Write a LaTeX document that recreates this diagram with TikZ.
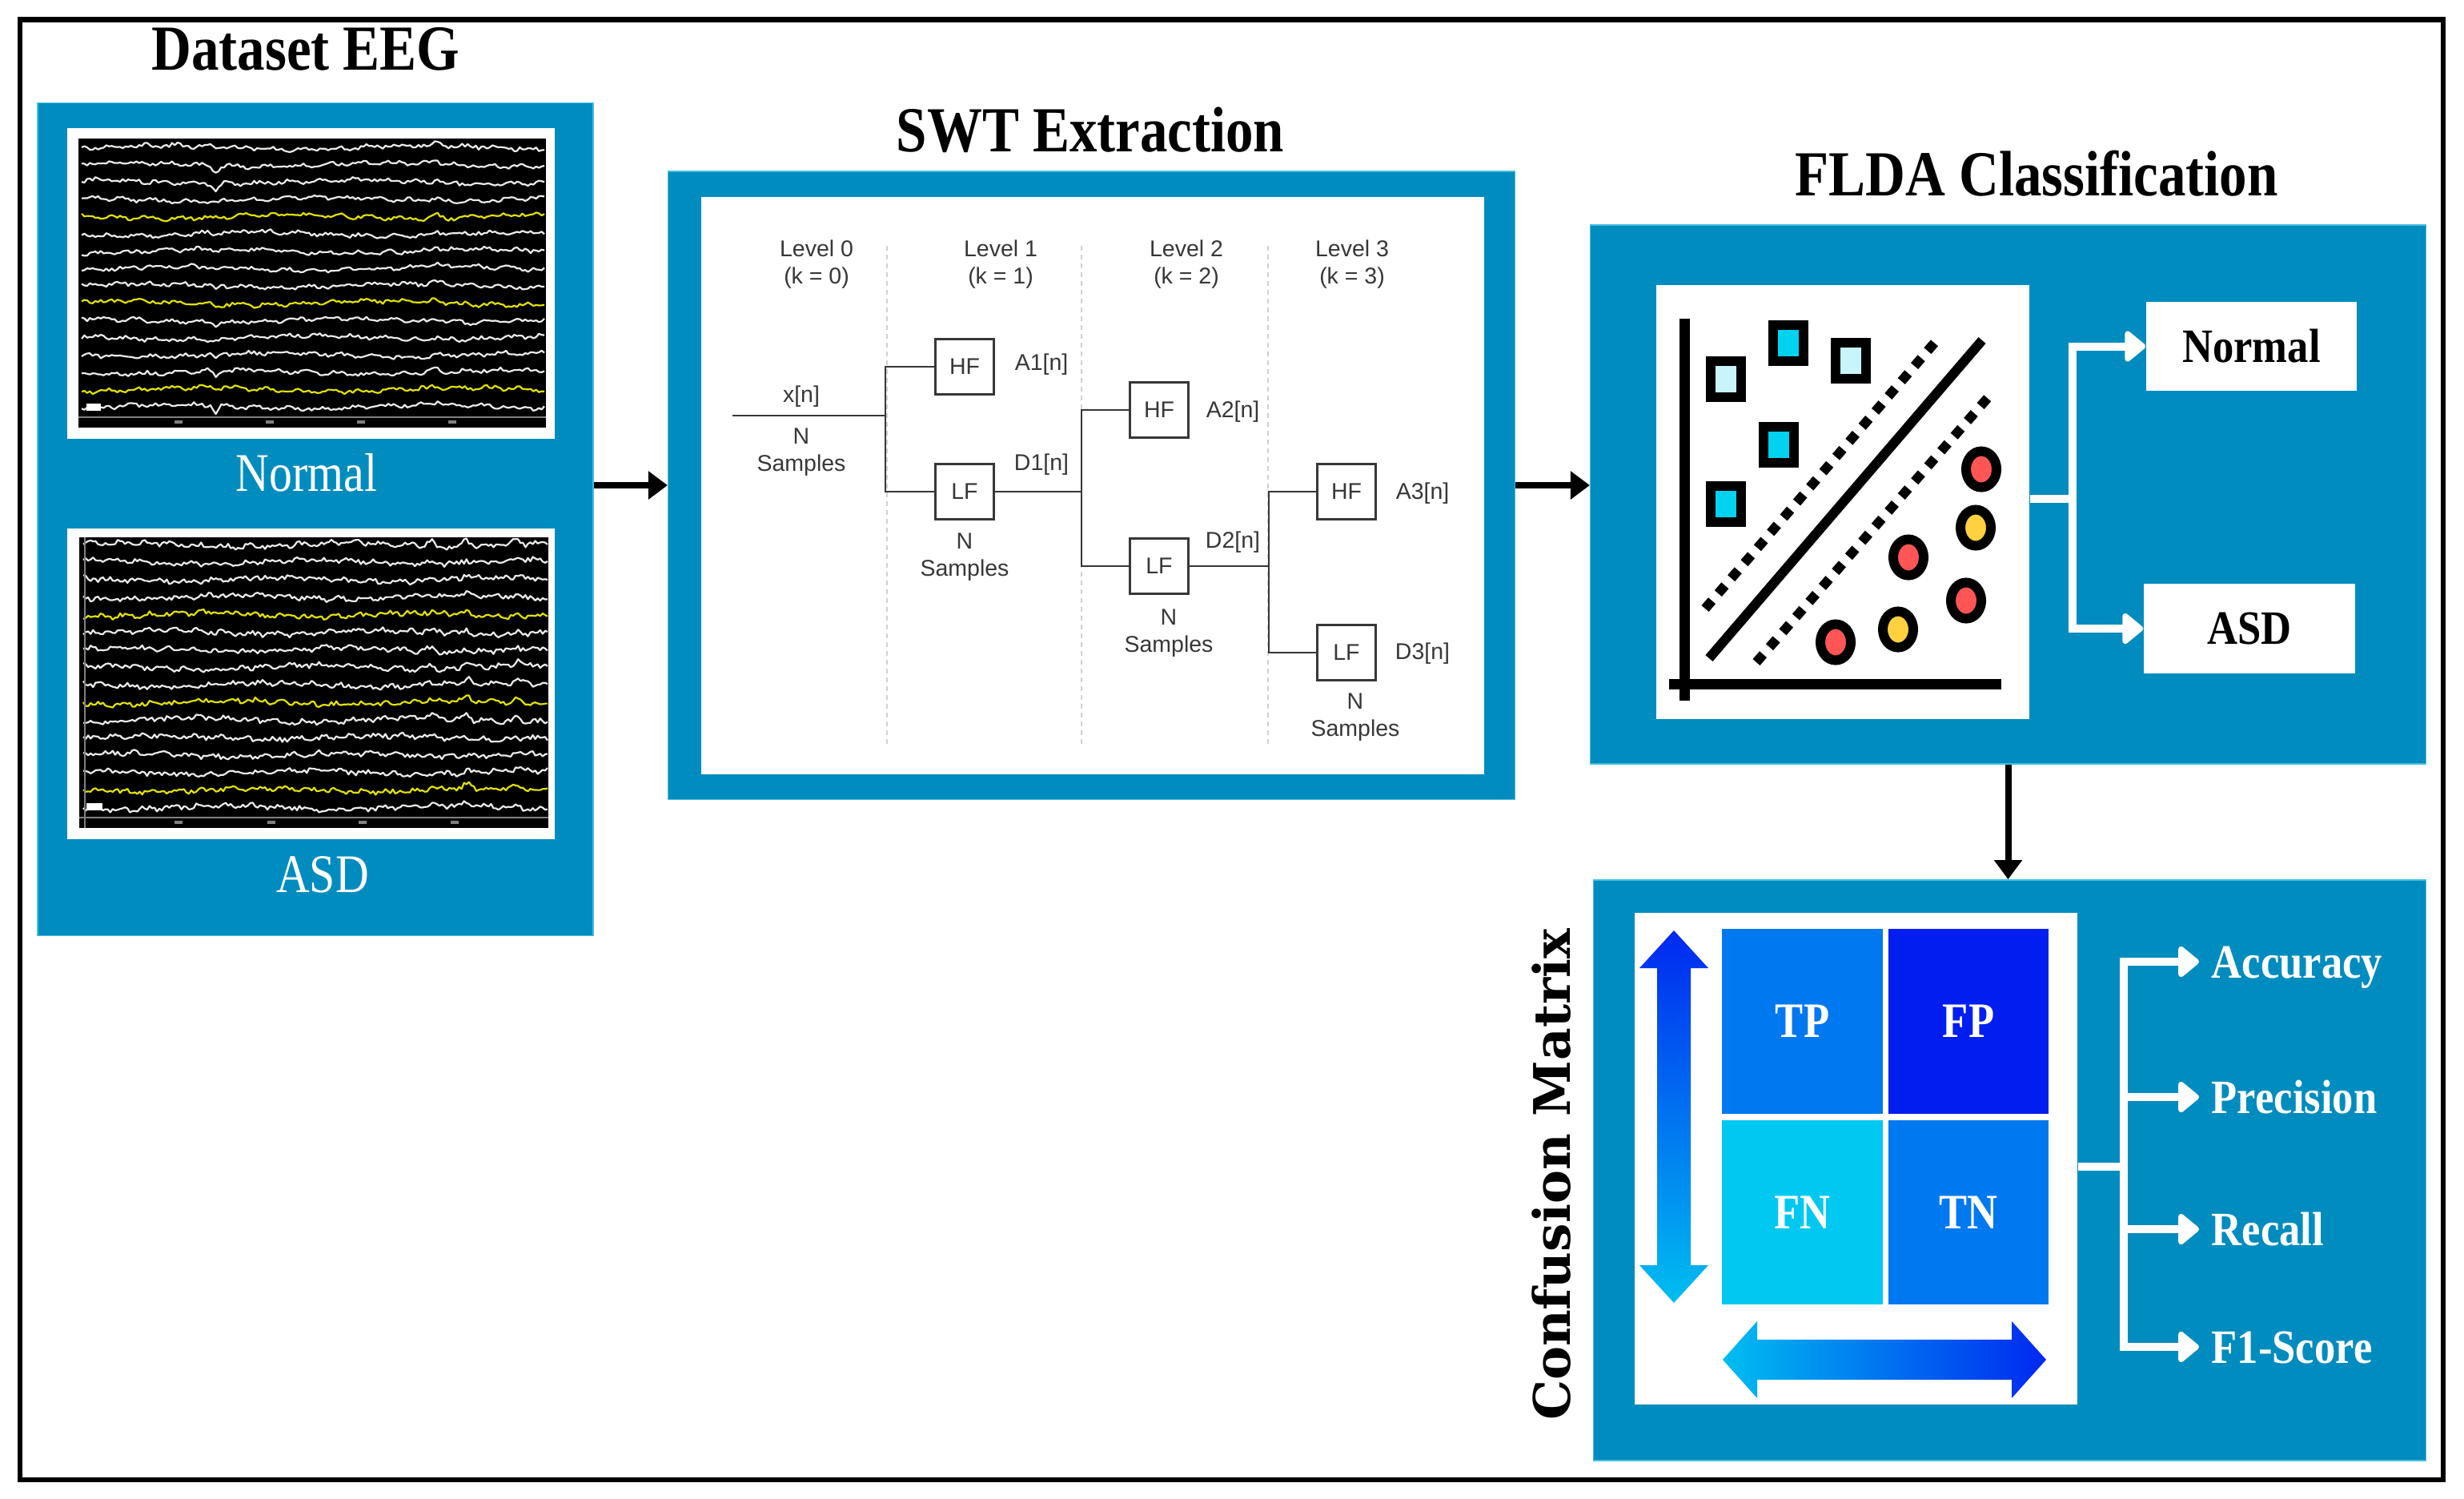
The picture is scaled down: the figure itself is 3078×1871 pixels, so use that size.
\documentclass[tikz,border=0pt]{standalone}
\usepackage{fontspec}
\setmainfont{Liberation Serif}
\newfontfamily\swtfont{Liberation Sans}
\newfontfamily\cmfont{DejaVu Serif}
\usepackage{tikz}
\usetikzlibrary{arrows.meta,positioning}

\definecolor{panelblue}{RGB}{0,140,190}
\definecolor{panelrim}{RGB}{70,190,225}
\definecolor{tpblue}{RGB}{0,120,240}
\definecolor{fpblue}{RGB}{0,30,240}
\definecolor{fncyan}{RGB}{0,200,240}
\definecolor{arrowdark}{RGB}{0,40,240}
\definecolor{arrowlight}{RGB}{0,190,240}
\definecolor{sqlight}{RGB}{200,244,252}
\definecolor{sqcyan}{RGB}{0,210,240}
\definecolor{dotred}{RGB}{255,85,85}
\definecolor{dotyellow}{RGB}{255,208,64}
\definecolor{eegwhite}{RGB}{235,235,235}
\definecolor{eegyellow}{RGB}{225,225,0}
\definecolor{swtgray}{RGB}{55,55,55}

\newcommand{\cond}[2]{\scalebox{#1}[1]{#2}}

\begin{document}
\begin{tikzpicture}[x=0.01cm,y=-0.01cm,
    panel/.style={fill=panelblue,draw=panelrim,line width=0.015cm,inner sep=0pt},
    card/.style={fill=white,inner sep=0pt},
    paneltitle/.style={font=\fontsize{22.8}{26}\selectfont\bfseries},
    eeglabel/.style={text=white,font=\fontsize{19.3}{22}\selectfont},
    classlabel/.style={font=\fontsize{17}{20}\selectfont\bfseries},
    metric/.style={text=white,font=\fontsize{17}{20}\selectfont\bfseries,anchor=west,inner xsep=0.15cm,inner ysep=0pt,text height=0.4cm,text depth=0pt},
    cell/.style={text=white,font=\fontsize{17.6}{20}\selectfont\bfseries,minimum width=2cm,minimum height=2.3cm,inner sep=0pt},
    filt/.style={draw=swtgray,line width=0.028cm,minimum width=0.73cm,minimum height=0.69cm,inner sep=0pt,text=swtgray,font=\swtfont\fontsize{8.1}{9.7}\selectfont},
    swtlabel/.style={text=swtgray,align=center,inner sep=0pt,font=\swtfont\fontsize{8.1}{9.7}\selectfont},
    wire/.style={draw=swtgray,line width=0.028cm},
    levelsep/.style={draw=black!18,line width=0.02cm,dash pattern=on 0.06cm off 0.05cm},
    flowarrow/.style={line width=0.08cm,-{Triangle[length=0.24cm,width=0.34cm]}},
    whiteline/.style={draw=white,line width=0.1cm},
    whiteflow/.style={whiteline,-{Triangle[length=0.28cm,width=0.44cm,round]}},
    eegtrace/.style={line width=0.022cm,line join=round},
    iconline/.style={line width=0.12cm}]

  \useasboundingbox (0,0) rectangle (3078,1871);
  \draw[line width=0.065cm] (25,24.5) rectangle (3052,1848);

  \node[panel,minimum width=6.94cm,minimum height=10.39cm] (eeg) at (394,648.5) {};
  \node[panel,minimum width=10.57cm,minimum height=7.84cm] (swt) at (1363.5,606) {};
  \node[panel,minimum width=10.43cm,minimum height=6.73cm] (flda) at (2508.5,617.5) {};
  \node[panel,minimum width=10.39cm,minimum height=7.25cm] (cm) at (2510.5,1461.5) {};

  \draw (382,61.5) node[paneltitle] (eegtitle) {\cond{0.86}{Dataset EEG}};
  \draw (1362,162) node[paneltitle] (swttitle) {\cond{0.86}{SWT Extraction}};
  \draw (2544,217) node[paneltitle] (fldatitle) {\cond{0.86}{FLDA Classification}};
  \draw (1938,1467) node[rotate=90,font=\cmfont\fontsize{17.9}{20}\selectfont\bfseries] (cmtitle) {Confusion Matrix};

  % EEG recordings
  \node[card,minimum width=6.09cm,minimum height=3.88cm] (normframe) at (388.5,354) {};
  \node[fill=black,inner sep=0pt,minimum width=5.84cm,minimum height=3.61cm] (normimg) at (390,353.5) {};
  \node[card,minimum width=6.09cm,minimum height=3.88cm] (asdframe) at (388.5,854) {};
  \node[fill=black,inner sep=0pt,minimum width=5.86cm,minimum height=3.63cm] (asdimg) at (392,852.5) {};
  \draw (383,590) node[eeglabel] (normlabel) {\cond{0.85}{Normal}};
  \draw (403,1092) node[eeglabel] (asdlabel) {\cond{0.85}{ASD}};

  \pgfmathsetseed{7}
  \foreach \c/\d [count=\i] in {eegwhite/2,eegwhite/9,eegwhite/8,eegwhite/3,eegyellow/2,eegwhite/3,eegwhite/2,eegwhite/4,eegwhite/8,eegyellow/5,eegwhite/6,eegwhite/2,eegwhite/7,eegwhite/9,eegyellow/2,eegwhite/10}{
    \pgfmathsetmacro\yy{184+(\i-1)*21.6}
    \draw[\c,eegtrace] plot[domain=102:680,samples=170] (\x,{\yy+2.2*rand+2.5*sin(1.1*\x+47*\i)+1.5*sin(9*\x+83*\i)+\d*max(0,1-abs(\x-270)/7)-4*max(0,1-abs(\x-545)/10)});
  }
  \foreach \c/\p [count=\i] in {eegwhite/9,eegwhite/4,eegwhite/5,eegwhite/2,eegyellow/2,eegwhite/4,eegwhite/5,eegwhite/9,eegwhite/7,eegyellow/5,eegwhite/6,eegwhite/3,eegwhite/3,eegwhite/3,eegyellow/6,eegwhite/4}{
    \pgfmathsetmacro\yy{680+(\i-1)*21.9}
    \draw[\c,eegtrace] plot[domain=104:684,samples=190] (\x,{\yy+2.8*rand+2.5*sin(1.3*\x+61*\i)+1.5*sin(11*\x+71*\i)-\p*(max(0,1-abs(\x-583)/9)+0.8*max(0,1-abs(\x-646)/9)+0.7*max(0,1-abs(\x-537)/9))});
  }
  \draw[gray,line width=0.02cm] (98,521) -- (682,521);
  \draw[gray,line width=0.02cm] (99,1021) -- (685,1021);
  \draw[gray,line width=0.015cm] (106,671) -- (106,1034);
  \fill[white] (108,504) rectangle (126,513);
  \fill[white] (108,1003) rectangle (128,1012);
  \foreach \t in {223,337,451,565} \fill[gray] (\t-5,525) rectangle (\t+5,529);
  \foreach \t in {223,339,453,568} \fill[gray] (\t-5,1025) rectangle (\t+5,1029);

  \draw[flowarrow] (swt.west -| eeg.east) -- (swt.west);
  \draw[flowarrow] (swt.east) -- (swt.east -| flda.west);
  \draw[flowarrow] (flda.south) -- (flda.south |- cm.north);

  % SWT tree
  \node[card,minimum width=9.78cm,minimum height=7.21cm] (swtcard) at (1365,606.5) {};
  \foreach \x in {1108,1351,1584} \draw[levelsep] (\x,307) -- (\x,930);
  \foreach \k/\x in {0/1020,1/1250,2/1482,3/1689} \draw (\x,330) node[swtlabel] (level\k) {Level \k\\(k = \k)};

  \draw (1205,458) node[filt] (hf1) {HF};
  \draw (1205,614) node[filt] (lf1) {LF};
  \draw (1448,512) node[filt] (hf2) {HF};
  \draw (1448,707) node[filt] (lf2) {LF};
  \draw (1682,614) node[filt] (hf3) {HF};
  \draw (1682,815) node[filt] (lf3) {LF};

  \coordinate (xin) at (915,519);
  \coordinate (split0) at (1106,519);
  \coordinate (split1) at (1351,614);
  \coordinate (split2) at (1585,707);
  \draw[wire] (xin) -- (split0);
  \draw[wire] (hf1.west) -| (split0) |- (lf1.west);
  \draw[wire] (lf1.east) -- (split1);
  \draw[wire] (hf2.west) -| (split1) |- (lf2.west);
  \draw[wire] (lf2.east) -- (split2);
  \draw[wire] (hf3.west) -| (split2) |- (lf3.west);

  \draw (1001,495) node[swtlabel] (xlab) {x[n]};
  \draw (1001,565) node[swtlabel] (nsamp0) {N\\Samples};
  \draw (1301,455) node[swtlabel] (a1) {A1[n]};
  \draw (1301,580) node[swtlabel] (d1) {D1[n]};
  \draw (1205,696) node[swtlabel] (nsamp1) {N\\Samples};
  \draw (1540,514) node[swtlabel] (a2) {A2[n]};
  \draw (1540,677) node[swtlabel] (d2) {D2[n]};
  \draw (1460,791) node[swtlabel] (nsamp2) {N\\Samples};
  \draw (1777,616) node[swtlabel] (a3) {A3[n]};
  \draw (1777,816) node[swtlabel] (d3) {D3[n]};
  \draw (1693,896) node[swtlabel] (nsamp3) {N\\Samples};

  % FLDA
  \node[card,minimum width=4.66cm,minimum height=5.42cm] (plot) at (2302,627) {};
  \draw[line width=0.13cm] (2104,398) -- (2104,875);
  \draw[line width=0.13cm] (2085,854) -- (2500,854);
  \draw[iconline] (2135,822) -- (2476,425);
  \draw[iconline,dash pattern=on 0.13cm off 0.12cm] (2130,760) -- (2421,423);
  \draw[iconline,dash pattern=on 0.13cm off 0.12cm] (2194,827) -- (2489,490);
  \foreach \px/\py/\f in {2156/473/sqlight,2234/428/sqcyan,2312/450/sqlight,2222/555/sqcyan,2156/629/sqcyan}
    \draw[iconline,fill=\f] (\px-19,\py-22.5) rectangle (\px+19,\py+22.5);
  \foreach \px/\py/\f in {2475/586/dotred,2468/659/dotyellow,2384/696/dotred,2456/750/dotred,2371/786/dotyellow,2293/802/dotred}
    \draw[iconline,fill=\f] (\px,\py) ellipse [x radius=0.19cm,y radius=0.225cm];

  \node[card,classlabel,minimum width=2.63cm,minimum height=1.11cm] (normalbox) at (2812.5,432.5) {\cond{0.88}{Normal}};
  \node[card,classlabel,minimum width=2.64cm,minimum height=1.12cm] (asdbox) at (2810,785) {\cond{0.88}{ASD}};
  \coordinate (fldajoin) at (2589,623);
  \draw[whiteline] (plot.east |- fldajoin) -- (fldajoin);
  \draw[whiteflow] (fldajoin) |- (normalbox.west);
  \draw[whiteflow] (fldajoin) |- (asdbox.west);

  % confusion matrix
  \node[card,minimum width=5.53cm,minimum height=6.14cm] (cmcard) at (2318.5,1447) {};
  \node[cell,fill=tpblue] (tp) at (2251.5,1275.5) {\cond{0.85}{TP}};
  \node[cell,fill=fpblue,right=0.06cm of tp] (fp) {\cond{0.85}{FP}};
  \node[cell,fill=fncyan,below=0.07cm of tp] (fn) {\cond{0.85}{FN}};
  \node[cell,fill=tpblue,right=0.06cm of fn] (tn) {\cond{0.85}{TN}};
  \shade[top color=arrowdark,bottom color=arrowlight] (2091,1162) -- (2134,1209) -- (2112,1209) -- (2112,1580) -- (2134,1580) -- (2091,1627) -- (2048,1580) -- (2070,1580) -- (2070,1209) -- (2048,1209) -- cycle;
  \shade[left color=arrowlight,right color=arrowdark] (2152,1698) -- (2195,1650) -- (2195,1673) -- (2513,1673) -- (2513,1650) -- (2556,1698) -- (2513,1746) -- (2513,1723) -- (2195,1723) -- (2195,1746) -- cycle;

  \coordinate (cmjoin) at (2653,1457);
  \draw[whiteline] (cmcard.east |- cmjoin) -- (cmjoin);
  \draw (2747,1201) node[metric] (acc) {\cond{0.88}{Accuracy}};
  \draw (2747,1370) node[metric] (prec) {\cond{0.88}{Precision}};
  \draw (2747,1535) node[metric] (rec) {\cond{0.88}{Recall}};
  \draw (2747,1682) node[metric] (fone) {\cond{0.88}{F1-Score}};
  \foreach \m in {acc,prec,rec,fone} \draw[whiteflow] (cmjoin) |- (\m.west);

\end{tikzpicture}
\end{document}
